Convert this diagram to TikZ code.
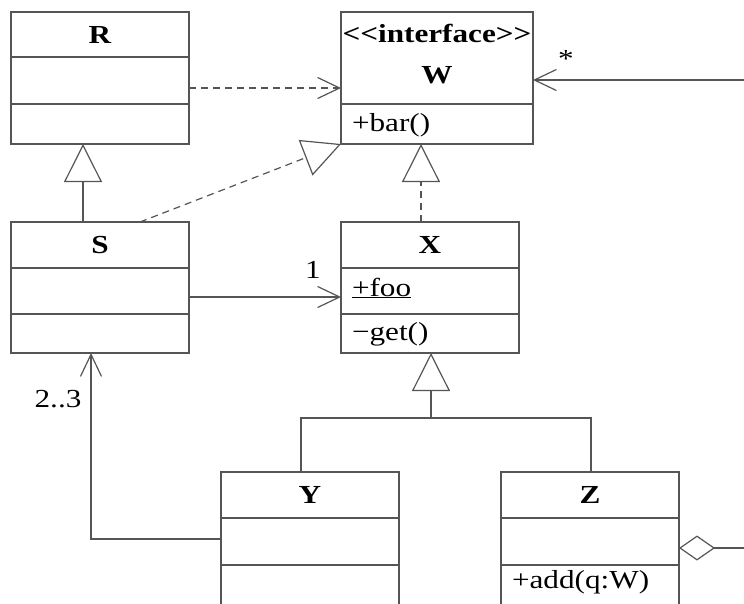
\documentclass[tikz,border=0pt]{standalone}
\usepackage{fontspec}
\setmainfont{Liberation Serif}[FakeStretch=1.2]
\usetikzlibrary{arrows.meta}
\definecolor{linecol}{RGB}{85,85,85}
\tikzset{
  lc/.style={draw=linecol, line width=1.2pt},
  classbox/.style={lc, rectangle, inner sep=0pt, outer sep=0pt},
  txt/.style={inner sep=0pt, outer sep=0pt, font=\fontsize{26pt}{30pt}\selectfont, text=black},
  ttl/.style={txt, anchor=base, font=\fontsize{26pt}{30pt}\selectfont\bfseries},
  mem/.style={txt, anchor=base west},
  dashline/.style={dash pattern=on 7pt off 5pt},
  dep/.style={lc, dashline, -{Straight Barb[length=22pt,width=21pt,line width=1.2pt]}},
  assoc/.style={lc, -{Straight Barb[length=22pt,width=21pt,line width=1.2pt]}},
  gen/.style={lc, -{Triangle[length=38pt,width=38pt,fill=white,line width=1.2pt]}},
  real/.style={lc, dashline, -{Triangle[length=38pt,width=38pt,fill=white,line width=1.2pt]}},
  agg/.style={lc, {Diamond[length=36pt,width=25pt,fill=white,line width=1.2pt]}-},
}
\begin{document}
\begin{tikzpicture}[x=1pt,y=-1pt]
\clip (0,0) rectangle (744,603);
\fill[white] (0,0) rectangle (744,603);

% class boxes
\node[classbox, minimum width=178pt, minimum height=132pt] (R) at (100,78) {};
\node[classbox, minimum width=192pt, minimum height=132pt] (W) at (437,78) {};
\node[classbox, minimum width=178pt, minimum height=131pt] (S) at (100,287.5) {};
\node[classbox, minimum width=178pt, minimum height=131pt] (X) at (430,287.5) {};
\node[classbox, minimum width=178pt, minimum height=134pt] (Y) at (310,539) {};
\node[classbox, minimum width=178pt, minimum height=134pt] (Z) at (590,539) {};

% compartments
\foreach \b/\o in {R/45,R/92,W/92,S/46,S/92,X/46,X/92,Y/46,Y/93,Z/46,Z/93}{
  \draw[lc] ([yshift=-\o pt]\b.north west) -- ([yshift=-\o pt]\b.north east);
}

% texts
\node[ttl] (Rt) at (100,43) {R};
\node[ttl] (Wst) at (437,42) {{<}{<}interface{>}{>}};
\node[ttl] (Wt) at (437,83) {W};
\node[mem] (Wbar) at (352,131) {+bar()};
\node[ttl] (St) at (100,253) {S};
\node[ttl] (Xt) at (430,253) {X};
\node[mem] (Xfoo) at (352,296) {\underline{+foo}};
\node[mem] (Xget) at (352,340) {−get()};
\node[ttl] (Yt) at (310,503) {Y};
\node[ttl] (Zt) at (590,503) {Z};
\node[mem] (Zadd) at (512,588) {+add(q:W)};

% connectors
\draw[dep] ([yshift=-10pt]R.east) -- ([yshift=-10pt]R.east -| W.west);
\draw[real] ([xshift=40pt]S.north) -- (W.south west);
\draw[gen] ([xshift=-17pt]S.north) -- ([xshift=-17pt]R.south);
\draw[real] ([xshift=-9pt]X.north) -- ([xshift=-9pt]X.north |- W.south);
\draw[assoc] ([yshift=-9.5pt]S.east) -- ([yshift=-9.5pt]S.east -| X.west);
\draw[assoc] (Y.west) -| ([xshift=-9pt]S.south);
\coordinate (join) at (431,418);
\draw[lc] ([xshift=-9pt]Y.north) |- (join);
\draw[lc] ([xshift=1pt]Z.north) |- (join);
\draw[gen] (join) -- (join |- X.south);
\coordinate (zr) at (746,548);
\draw[agg] ([yshift=-9pt]Z.east) -- (zr);
\coordinate (wr) at (746,80);
\draw[assoc] (wr) -- (wr -| W.east);

% multiplicities
\node[txt, anchor=base] (mstar) at (566,67) {*};
\node[txt, anchor=base] (mone) at (313,278) {1};
\node[txt, anchor=base] (mtwo) at (58,407) {2..3};
\end{tikzpicture}
\end{document}
